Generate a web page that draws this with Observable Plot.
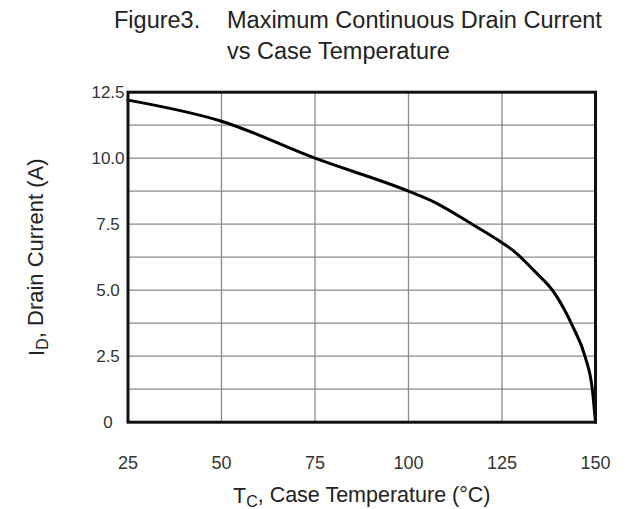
<!DOCTYPE html>
<html>
<head>
<meta charset="utf-8">
<script src="https://cdn.jsdelivr.net/npm/d3@7"></script>
<script src="https://cdn.jsdelivr.net/npm/@observablehq/plot@0.6"></script>
<style>
  html, body { margin: 0; padding: 0; background: white; }
  #wrap { width: 635px; font-family: "Liberation Sans", Arial, sans-serif; color: #222; }
  #title { position: relative; height: 70px; font-size: 23.5px; line-height: 31px; }
  #title div { position: absolute; white-space: nowrap; }
  svg { display: block; }
</style>
</head>
<body>
<div id="wrap">
  <div id="title">
    <div style="left:114px; top:4.7px;">Figure3.</div>
    <div style="left:227px; top:4.7px;">Maximum Continuous Drain Current</div>
    <div style="left:227px; top:35.7px;">vs Case Temperature</div>
  </div>
  <div id="chart"></div>
</div>
<script>
// Data
const temps   = [25, 50, 75, 100, 107, 117, 125, 128, 133.5, 139, 144, 147.3, 149.1, 150];
const current = [12.2, 11.4, 10.0, 8.75, 8.33, 7.5, 6.8, 6.5, 5.75, 4.9, 3.6, 2.45, 1.3, 0];

const xTicks = [25, 50, 75, 100, 125, 150];
const xTickLabels = ["25", "50", "75", "100", "125", "150"];
const yTicks = [0, 2.5, 5, 7.5, 10, 12.5];
const yTickLabels = ["0", "2.5", "5.0", "7.5", "10.0", "12.5"];
const xGrid = [50, 75, 100, 125];
const yGrid = [1.25, 2.5, 3.75, 5, 6.25, 7.5, 8.75, 10, 11.25];

const xTitle = "TC, Case Temperature (°C)";
const yTitle = "ID, Drain Current (A)";

const data = temps.map((t, i) => ({t, i: current[i]}));

const chart = Plot.plot({
  width: 635,
  height: 439,
  marginLeft: 127.5,
  marginRight: 40,
  marginTop: 21.7,
  marginBottom: 87.3,
  x: {domain: [25, 150], axis: null},
  y: {domain: [0, 12.5], axis: null},
  style: {fontFamily: "'Liberation Sans', Arial, sans-serif", background: "white", color: "#222"},
  marks: [
    Plot.ruleY(yGrid, {stroke: "#8a8a8a", strokeWidth: 1.3}),
    Plot.ruleX(xGrid, {stroke: "#8a8a8a", strokeWidth: 1.3}),
    Plot.line(data, {x: "t", y: "i", stroke: "#000", strokeWidth: 3, curve: "monotone-x"}),
    Plot.frame({stroke: "#111", strokeWidth: 3}),
    Plot.text(xTicks, {x: d => d, frameAnchor: "bottom", lineAnchor: "middle", textAnchor: "middle", dy: 41.3, text: (d, k) => xTickLabels[k], fontSize: 18, fill: "#333"}),
    Plot.text(yTicks, {y: d => d, frameAnchor: "left", lineAnchor: "middle", textAnchor: "middle", dx: -20, text: (d, k) => yTickLabels[k], fontSize: 17, fill: "#333"}),
    Plot.text([xTitle], {frameAnchor: "bottom", lineAnchor: "middle", textAnchor: "middle", dy: 73.8, text: d => d, fontSize: 21.5, fill: "#222"}),
    Plot.text([yTitle], {frameAnchor: "left", lineAnchor: "middle", textAnchor: "middle", dx: -91, rotate: -90, text: d => d, fontSize: 22, fill: "#222"})
  ]
});

// Add subscripts to the axis titles
d3.select(chart).selectAll("text").each(function() {
  const t = this.textContent;
  if (t === xTitle || t === yTitle) {
    const sel = d3.select(this);
    sel.text(null);
    const main = t[0], sub = t[1], rest = t.slice(2);
    sel.append("tspan").text(main);
    sel.append("tspan").attr("dy", "0.25em").attr("font-size", "16px").text(sub);
    sel.append("tspan").attr("dy", "-0.25em").text(rest);
  }
});

document.getElementById("chart").appendChild(chart);
</script>
</body>
</html>
